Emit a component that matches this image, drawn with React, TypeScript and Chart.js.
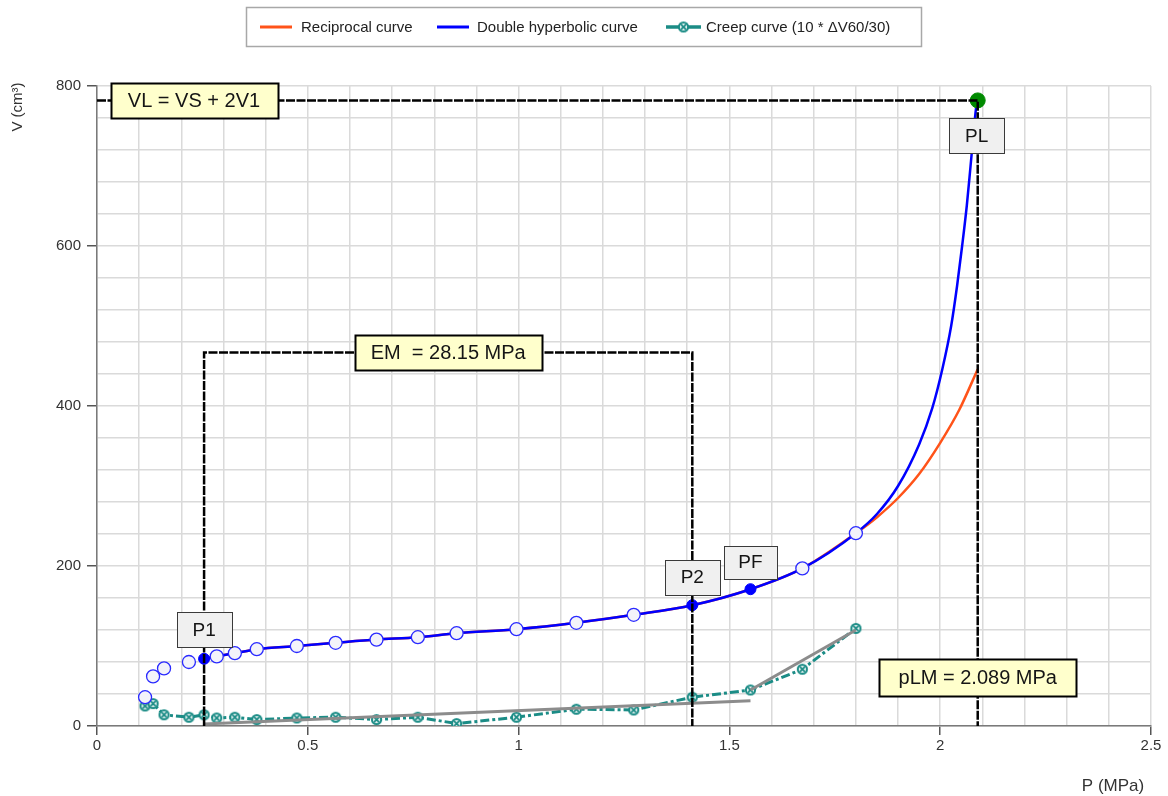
import React, { useEffect, useRef } from 'react';
import { Chart, registerables } from 'chart.js';
Chart.register(...registerables);

// ---- data (P in MPa, V in cm³) ----
const measuredP = [0.114, 0.133, 0.159, 0.218, 0.284, 0.327, 0.379, 0.474, 0.566, 0.663, 0.761, 0.853, 0.995, 1.137, 1.273, 1.673, 1.8];
const measuredV = [36, 62, 72, 80, 87, 91, 96, 100, 104, 108, 111, 116, 121, 129, 139, 197, 241];

const keyP = [0.254, 1.412, 1.55];
const keyV = [84, 151, 171];
const keyNames = ['P1', 'P2', 'PF'];

const plP = 2.089;
const plV = 782;

const hyperP = [0.254, 0.284, 0.327, 0.379, 0.474, 0.566, 0.663, 0.761, 0.853, 0.995, 1.137, 1.273, 1.412, 1.55, 1.673, 1.8, 1.85, 1.9, 1.95, 1.981, 2.005, 2.026, 2.04, 2.052, 2.063, 2.072, 2.079, 2.085, 2.089];
const hyperV = [84, 87, 91, 96, 100, 104, 108, 111, 116, 121, 129, 139, 151, 171, 197, 241, 265, 300, 352, 397, 446, 500, 550, 600, 650, 700, 740, 772, 782];

const recipP = [0.254, 0.284, 0.327, 0.379, 0.474, 0.566, 0.663, 0.761, 0.853, 0.995, 1.137, 1.273, 1.412, 1.55, 1.673, 1.8, 1.85, 1.9, 1.95, 2.0, 2.045, 2.089];
const recipV = [84, 87, 91, 96, 100, 104, 108, 111, 116, 121, 129, 139, 151, 171, 197, 241, 261, 285, 315, 354, 395, 446];

const creepP = [0.114, 0.133, 0.159, 0.218, 0.254, 0.284, 0.327, 0.379, 0.474, 0.566, 0.663, 0.761, 0.853, 0.995, 1.137, 1.273, 1.412, 1.55, 1.673, 1.8];
const creepV = [25, 28, 14, 11, 14, 10, 11, 8, 10, 11, 8, 11, 3, 11, 21, 20, 36, 45, 71, 122];

const fit1P = [0.254, 1.55];
const fit1V = [2.5, 31.5];
const fit2P = [1.55, 1.8];
const fit2V = [45, 120];

const emTopV = 467;

const xTickLabels = ['0', '0.5', '1', '1.5', '2', '2.5'];
const yTickLabels = ['0', '200', '400', '600', '800'];

const legendLabels = ['Reciprocal curve', 'Double hyperbolic curve', 'Creep curve (10 * \u0394V60/30)'];
const xTitle = 'P (MPa)';
const yTitle = 'V (cm\u00B3)';
const vlText = 'VL = VS + 2V1';
const emText = 'EM  = 28.15 MPa';
const plmText = 'pLM = 2.089 MPa';
const plText = 'PL';

const FONT = '"Liberation Sans", Arial, sans-serif';
const TEAL = '#1b8c86';
const BLUE = '#0000ff';
const ORANGE = '#ff5319';

const pts = (xs: number[], ys: number[]) => xs.map((x, i) => ({ x, y: ys[i] }));

function makeCreepMarker(): HTMLCanvasElement {
  const c = document.createElement('canvas');
  c.width = 13;
  c.height = 13;
  const g = c.getContext('2d')!;
  g.translate(6.5, 6.5);
  g.fillStyle = '#e8f4f3';
  g.beginPath();
  g.arc(0, 0, 4.6, 0, Math.PI * 2);
  g.fill();
  g.strokeStyle = TEAL;
  g.lineWidth = 2;
  g.stroke();
  g.lineWidth = 1.8;
  g.beginPath();
  g.moveTo(-2.6, -2.6); g.lineTo(2.6, 2.6);
  g.moveTo(2.6, -2.6); g.lineTo(-2.6, 2.6);
  g.stroke();
  return c;
}

const xMajor = (v: number) => Math.abs(v * 2 - Math.round(v * 2)) < 1e-6;
const yMajor = (v: number) => Math.abs(v / 200 - Math.round(v / 200)) < 1e-6;

export default function App() {
  const ref = useRef<HTMLCanvasElement>(null);

  useEffect(() => {
    const canvas = ref.current!;
    const marker = makeCreepMarker();

    const drawBox = (c: CanvasRenderingContext2D, cx: number, cy: number, w: number, h: number, text: string, yellow: boolean) => {
      const x = Math.round(cx - w / 2) + 0.5;
      const y = Math.round(cy - h / 2) + 0.5;
      c.save();
      c.fillStyle = yellow ? '#ffffcc' : '#f0f0f0';
      c.fillRect(x, y, w, h);
      c.strokeStyle = yellow ? '#000' : '#3a3a3a';
      c.lineWidth = yellow ? 2 : 1;
      c.strokeRect(x, y, w, h);
      c.fillStyle = '#151515';
      c.font = `${yellow ? 20 : 19}px ${FONT}`;
      c.textAlign = 'center';
      c.textBaseline = 'middle';
      c.fillText(text, cx, cy + 1);
      c.restore();
    };

    const annot = {
      id: 'annot',
      afterDraw(chart: any) {
        const c: CanvasRenderingContext2D = chart.ctx;
        const xs = chart.scales.x;
        const ys = chart.scales.y;
        const X = (v: number) => xs.getPixelForValue(v);
        const Y = (v: number) => ys.getPixelForValue(v);

        // label boxes
        drawBox(c, X(0) + 97, Y(plV), 167, 35, vlText, true);
        drawBox(c, (X(keyP[0]) + X(keyP[1])) / 2, Y(emTopV), 187, 35, emText, true);
        drawBox(c, X(plP), Y(0) - 48.5, 197, 37, plmText, true);
        drawBox(c, X(keyP[0]), Y(keyV[0]) - 29, 55, 35, keyNames[0], false);
        drawBox(c, X(keyP[1]), Y(keyV[1]) - 28, 55, 35, keyNames[1], false);
        drawBox(c, X(keyP[2]), Y(keyV[2]) - 27, 53, 33, keyNames[2], false);
        drawBox(c, X(plP) - 1, Y(plV) + 35, 55, 35, plText, false);

        // axis titles
        c.save();
        c.fillStyle = '#333';
        c.font = `15px ${FONT}`;
        c.textAlign = 'center';
        c.textBaseline = 'middle';
        c.translate(18, 107);
        c.rotate(-Math.PI / 2);
        c.fillText(yTitle, 0, 0);
        c.restore();

        c.save();
        c.fillStyle = '#333';
        c.font = `17px ${FONT}`;
        c.textAlign = 'center';
        c.textBaseline = 'middle';
        c.fillText(xTitle, 1113, 786);
        c.restore();

        // legend
        c.save();
        c.fillStyle = '#fff';
        c.fillRect(246, 7, 675, 39);
        c.strokeStyle = '#a8a8a8';
        c.lineWidth = 1.5;
        c.strokeRect(246.5, 7.5, 675, 39);
        const ly = 27;
        c.lineWidth = 3;
        c.strokeStyle = ORANGE;
        c.beginPath(); c.moveTo(260, ly); c.lineTo(292, ly); c.stroke();
        c.strokeStyle = BLUE;
        c.beginPath(); c.moveTo(437, ly); c.lineTo(469, ly); c.stroke();
        c.strokeStyle = TEAL;
        c.lineWidth = 3.5;
        c.beginPath(); c.moveTo(666, ly); c.lineTo(701, ly); c.stroke();
        c.drawImage(marker, 683.5 - 6.5, ly - 6.5);
        c.fillStyle = '#222';
        c.font = `15px ${FONT}`;
        c.textBaseline = 'middle';
        c.textAlign = 'left';
        c.fillText(legendLabels[0], 301, ly + 1);
        c.fillText(legendLabels[1], 477, ly + 1);
        c.fillText(legendLabels[2], 706, ly + 1);
        c.restore();
      },
    };

    const lineDs = (data: any[], color: string, width: number, order: number, extra: any = {}) => ({
      data,
      showLine: true,
      borderColor: color,
      backgroundColor: color,
      borderWidth: width,
      pointRadius: 0,
      pointHoverRadius: 0,
      fill: false,
      order,
      ...extra,
    });

    const chart = new Chart(canvas, {
      type: 'scatter',
      data: {
        datasets: [
          // black construction lines
          lineDs(pts([keyP[0], keyP[0], keyP[1], keyP[1]], [0, emTopV, emTopV, 0]), '#000', 2.5, 0, { borderDash: [9, 1.5] }),
          lineDs(pts([0, plP, plP], [plV, plV, 0]), '#000', 2.5, 0, { borderDash: [9, 1.5] }),
          // PL point
          {
            data: pts([plP], [plV]),
            pointRadius: 7.5,
            pointBackgroundColor: '#008a00',
            pointBorderColor: '#008a00',
            pointBorderWidth: 1,
            showLine: false,
            order: 1,
          },
          // key points
          {
            data: pts(keyP, keyV),
            pointRadius: 5.5,
            pointBackgroundColor: BLUE,
            pointBorderColor: BLUE,
            pointBorderWidth: 1,
            showLine: false,
            order: 1,
          },
          // measured points
          {
            data: pts(measuredP, measuredV),
            pointRadius: 6.5,
            pointBackgroundColor: '#f3f3fa',
            pointBorderColor: '#2a2aff',
            pointBorderWidth: 1.3,
            showLine: false,
            order: 2,
          },
          lineDs(pts(hyperP, hyperV), BLUE, 2.5, 3, { cubicInterpolationMode: 'monotone' }),
          lineDs(pts(recipP, recipV), ORANGE, 2.5, 4, { cubicInterpolationMode: 'monotone' }),
          lineDs(pts(fit1P, fit1V), '#8c8c8c', 3, 5),
          lineDs(pts(fit2P, fit2V), '#8c8c8c', 3, 5),
          {
            data: pts(creepP, creepV),
            showLine: true,
            borderColor: TEAL,
            borderWidth: 3,
            borderDash: [9, 3, 3, 3],
            pointStyle: marker,
            pointRadius: 6,
            fill: false,
            order: 6,
          },
        ],
      },
      options: {
        responsive: false,
        animation: false,
        devicePixelRatio: 1,
        events: [],
        layout: { padding: { top: 86, right: 17, left: 0, bottom: 0 } },
        plugins: {
          legend: { display: false },
          tooltip: { enabled: false },
          title: { display: false },
        },
        scales: {
          x: {
            type: 'linear',
            min: 0,
            max: 2.5,
            afterFit: (s: any) => { s.height = 70; },
            border: { display: true, color: '#7a7a7a', width: 1.5 },
            grid: {
              color: '#dadada',
              lineWidth: 1.5,
              tickLength: 9,
              tickWidth: 1.5,
              tickColor: (ctx: any) => (ctx.tick && xMajor(ctx.tick.value) ? '#555' : 'rgba(0,0,0,0)'),
            },
            ticks: {
              stepSize: 0.1,
              maxTicksLimit: 100,
              autoSkip: false,
              maxRotation: 0,
              padding: 2,
              color: '#333',
              font: { family: FONT, size: 15 },
              callback: (v: any) => {
                const r = Math.round(Number(v) * 10) / 10;
                const s = String(r);
                return xMajor(r) && xTickLabels.includes(s) ? s : '';
              },
            },
          },
          y: {
            type: 'linear',
            min: 0,
            max: 800,
            afterFit: (s: any) => { s.width = 97; },
            border: { display: true, color: '#7a7a7a', width: 1.5 },
            grid: {
              color: '#dadada',
              lineWidth: 1.5,
              tickLength: 10,
              tickWidth: 1.5,
              tickColor: (ctx: any) => (ctx.tick && yMajor(ctx.tick.value) ? '#555' : 'rgba(0,0,0,0)'),
            },
            ticks: {
              stepSize: 40,
              maxTicksLimit: 100,
              autoSkip: false,
              padding: 6,
              color: '#333',
              font: { family: FONT, size: 15 },
              callback: (v: any) => {
                const r = Math.round(Number(v));
                const s = String(r);
                return yMajor(r) && yTickLabels.includes(s) ? s : '';
              },
            },
          },
        },
      } as any,
      plugins: [annot],
    });

    return () => chart.destroy();
  }, []);

  return (
    <div style={{ position: 'fixed', left: 0, top: 0, width: 1168, height: 796, background: '#fff' }}>
      <canvas ref={ref} width={1168} height={796} style={{ display: 'block' }} />
    </div>
  );
}
